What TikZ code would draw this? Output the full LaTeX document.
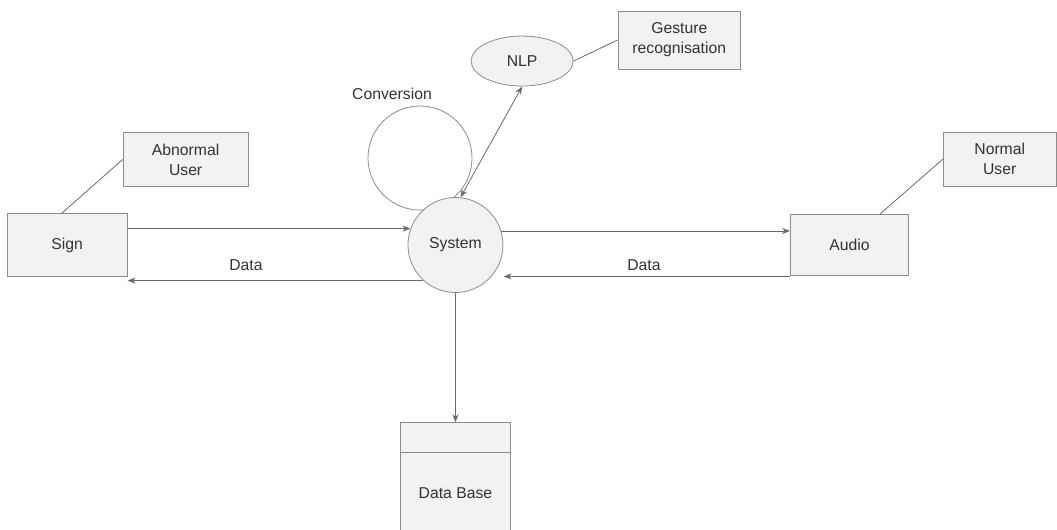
\documentclass[tikz,border=0pt]{standalone}
\usepackage{fontspec}
\setmainfont{Liberation Sans}
\usetikzlibrary{shapes,arrows.meta,positioning,calc}

\definecolor{boxfill}{RGB}{242,242,242}
\definecolor{boxline}{RGB}{140,140,140}
\definecolor{linegray}{RGB}{105,105,105}
\definecolor{textgray}{RGB}{50,50,50}

\begin{document}
\begin{tikzpicture}[
        font=\fontsize{11.8}{15}\selectfont,
        text=textgray,
        >={Stealth[length=6pt, width=4.5pt]},
        entity/.style={rectangle, draw=boxline, fill=boxfill, align=center, line width=0.6pt, inner sep=0pt},
        process/.style={circle, draw=boxline, fill=boxfill, line width=0.6pt, minimum size=71.25pt, inner sep=0pt},
        loopring/.style={circle, draw=boxline, line width=0.6pt, minimum size=78pt, inner sep=0pt},
        arrow/.style={->, draw=linegray, line width=0.6pt},
        link/.style={draw=linegray, line width=0.6pt}
      ]
        \clip (0,0) rectangle (792.75pt,-396.75pt);

        % Conversion loop (under the system circle)
        \node[loopring] (conv) at (315pt,-118.5pt) {};
        \node[above=1pt of conv.north, xshift=-21pt] (convlabel) {Conversion};

        % Central process
        \node[process] (system) at (341.6pt,-183.75pt) {System};

        % External entities
        \node[entity, minimum width=90pt, minimum height=47pt, left=210pt of system] (sign) {Sign};
        \node[entity, minimum width=88.5pt, minimum height=46pt, right=215pt of system] (audio) {Audio};
        \node[entity, minimum width=94pt, minimum height=40pt, above right=20pt and -3.75pt of sign] (abnormal) {Abnormal\\User};
        \node[entity, minimum width=84.75pt, minimum height=40.5pt, above right=20.5pt and 25.5pt of audio] (normal) {Normal\\User};

        % NLP and gesture recognition
        \node[ellipse, draw=boxline, fill=boxfill, line width=0.6pt, minimum width=76.5pt, minimum height=37.5pt, inner sep=0pt, above=83pt of system, xshift=50pt] (nlp) {NLP};
        \node[entity, minimum width=92pt, minimum height=43.5pt, right=33pt of nlp, yshift=15.75pt] (gesture) {Gesture\\recognisation};

        % Data store
        \node[entity, minimum width=82.5pt, minimum height=22pt, below=97pt of system] (dbhead) {};
        \node[entity, minimum width=82.5pt, minimum height=61.5pt, below=-0.6pt of dbhead] (db) {Data Base};

        % Arrows
        \draw[arrow] (system.160 -| sign.east) -- (system.160);
        \draw[arrow] (system.228) -- node[above=3.5pt, pos=0.6] (datasign) {Data} (system.228 -| sign.east);
        \draw[arrow] (system.17) -- (system.17 -| audio.west);
        \draw[arrow] (system.-41 -| audio.west) -- node[above=1pt, pos=0.51] (dataaudio) {Data} ([xshift=9pt]system.-41);
        \draw[arrow] (system.south) -- (dbhead.north);
        \draw[arrow, <->] (system.84) -- (nlp.south);

        % Links to users
        \draw[link] ([xshift=-4pt]sign.north) -- (abnormal.west);
        \draw[link] ([xshift=23pt]audio.north) -- (normal.west);
        \draw[link] (nlp.east) -- (gesture.west);
      \end{tikzpicture}
\end{document}
